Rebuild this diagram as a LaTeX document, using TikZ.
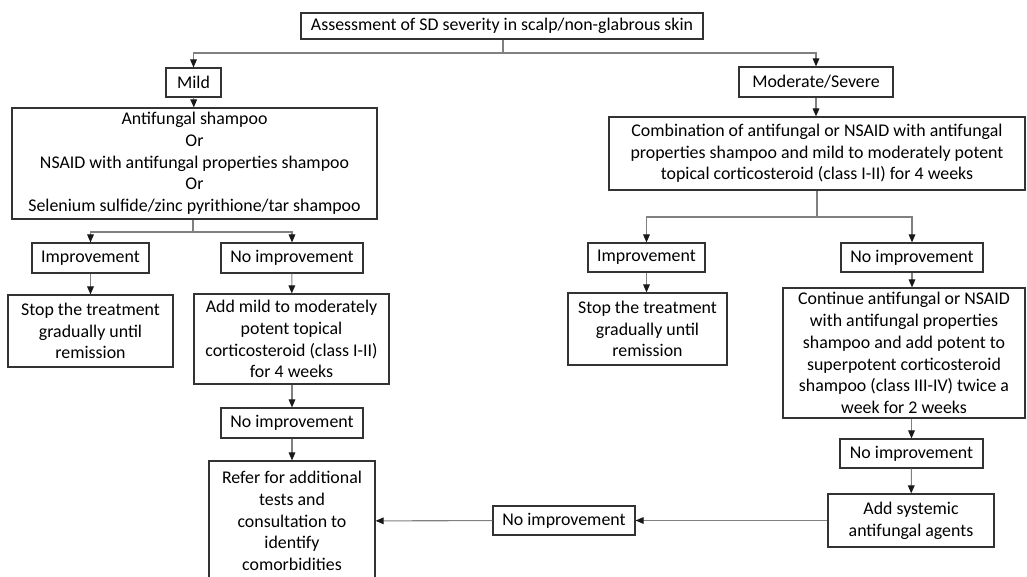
\documentclass[tikz,border=0pt]{standalone}
\usepackage{fontspec}
\setmainfont{Carlito}
\usetikzlibrary{arrows.meta}

\begin{document}
\begin{tikzpicture}[x=0.75pt,y=-0.75pt,
	box/.style={draw=black!80,line width=0.9pt,inner sep=0pt,align=center,
		font=\fontsize{13.4}{16.3}\selectfont,text=black},
	sz/.style 2 args={minimum width=#1*0.75pt,minimum height=#2*0.75pt},
	link/.style={draw=black!50,line width=0.8pt},
	arr/.style={link,-{Triangle[length=6pt,width=5pt,color=black!90]}}]
	\useasboundingbox (0,0) rectangle (1027,577);
	\clip (0,0) rectangle (1027,577);

	% top and severity
	\node[box,sz={402}{26}] (assess) at (502,26) {Assessment of SD severity in scalp/non-glabrous skin};
	\node[box,sz={55}{29}] (mild) at (193.5,82.5) {Mild};
	\node[box,sz={154}{30}] (modsev) at (816,82) {Moderate/Severe};

	% mild branch
	\node[box,sz={365}{111}] (mildrx) at (194.5,163.5) {Antifungal shampoo\\Or\\NSAID with antifungal properties shampoo\\Or\\Selenium sulfide/zinc pyrithione/tar shampoo};
	\node[box,sz={117}{30}] (impL) at (90.5,258) {Improvement};
	\node[box,sz={142}{30}] (noimpL) at (292,258) {No improvement};
	\node[box,sz={165}{72}] (stopL) at (90.5,331) {Stop the treatment\\gradually until\\remission};
	\node[box,sz={195}{90}] (addmild) at (291.5,339) {Add mild to moderately\\potent topical\\corticosteroid (class I-II)\\for 4 weeks};
	\node[box,sz={142}{30}] (noimpL2) at (292,423) {No improvement};
	\node[box,sz={166}{120}] (refer) at (292,521) {Refer for additional\\tests and\\consultation to\\identify\\comorbidities};

	% moderate/severe branch
	\node[box,sz={416}{73}] (combo) at (817,153.5) {Combination of antifungal or NSAID with antifungal\\properties shampoo and mild to moderately potent\\topical corticosteroid (class I-II) for 4 weeks};
	\node[box,sz={117}{29}] (impR) at (646.5,257.5) {Improvement};
	\node[box,sz={142}{29}] (noimpR) at (912,257.5) {No improvement};
	\node[box,sz={159}{72}] (stopR) at (647.5,329) {Stop the treatment\\gradually until\\remission};
	\node[box,sz={242}{130}] (cont) at (904,353) {Continue antifungal or NSAID\\with antifungal properties\\shampoo and add potent to\\superpotent corticosteroid\\shampoo (class III-IV) twice a\\week for 2 weeks};
	\node[box,sz={143}{29}] (noimpR2) at (911.5,453.5) {No improvement};
	\node[box,sz={166}{53}] (addsys) at (911,520.5) {Add systemic\\antifungal agents};
	\node[box,sz={142}{29}] (noimp3) at (564,520.5) {No improvement};

	% connectors
	\coordinate (split0) at (503,53);
	\coordinate (split1) at (193,232);
	\coordinate (split2) at (817,217);
	\draw[link] (assess.south -| split0) -- (split0);
	\draw[arr] (split0) -| (mild.north);
	\draw[arr] (split0) -| (modsev.north);
	\draw[arr] (mild) -- (mildrx);
	\draw[arr] (modsev.south) -- (modsev.south |- combo.north);

	\draw[link] (mildrx.south -| split1) -- (split1);
	\draw[arr] (split1) -| (impL.north);
	\draw[arr] (split1) -| (noimpL.north);
	\draw[arr] (impL) -- (stopL);
	\draw[arr] (noimpL) -- (addmild);
	\draw[arr] (addmild.south -| noimpL2) -- (noimpL2);
	\draw[arr] (noimpL2) -- (refer);

	\draw[link] (combo.south -| split2) -- (split2);
	\draw[arr] (split2) -| (impR.north);
	\draw[arr] (split2) -| (noimpR.north);
	\draw[arr] (impR.south) -- (impR.south |- stopR.north);
	\draw[arr] (noimpR.south) -- (noimpR.south |- cont.north);
	\draw[arr] (cont.south -| noimpR2) -- (noimpR2);
	\draw[arr] (noimpR2) -- (addsys);
	\draw[arr] (addsys) -- (noimp3);
	\draw[arr] (noimp3) -- (refer);
\end{tikzpicture}
\end{document}
